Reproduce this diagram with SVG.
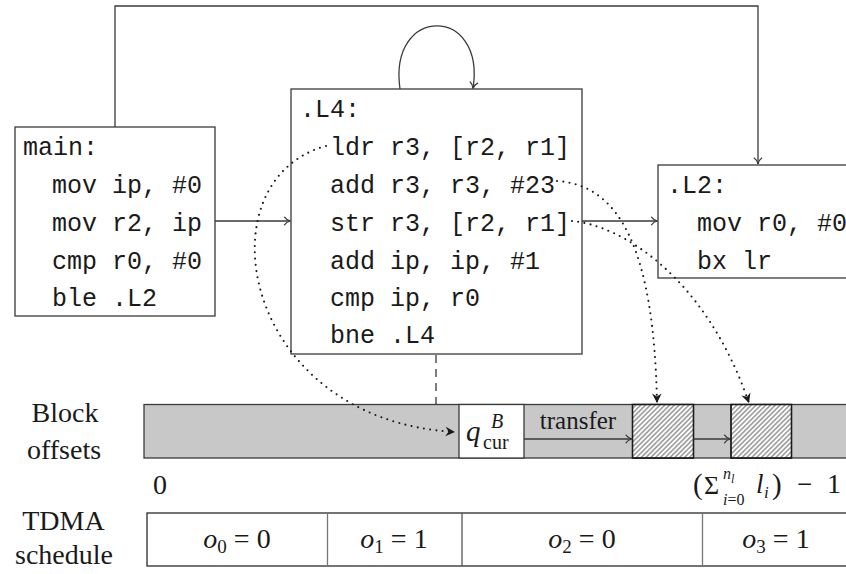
<svg xmlns="http://www.w3.org/2000/svg" width="846" height="574" viewBox="0 0 846 574">
<style>
.box{fill:#fff;stroke:#3a3a3a;stroke-width:1.3}
.code{font-family:"Liberation Mono","DejaVu Sans Mono",monospace;font-size:25px;fill:#1a1a1a}
.rm{font-family:"Liberation Serif","Times New Roman",serif;fill:#1a1a1a}
.it{font-style:italic}
.edge{fill:none;stroke:#3a3a3a;stroke-width:1.3}
.dot{fill:none;stroke:#1a1a1a;stroke-width:2.1;stroke-linecap:round;stroke-dasharray:0 6.3}
.dash{fill:none;stroke:#3a3a3a;stroke-width:1.3;stroke-dasharray:8 6}
</style>
<defs>
<marker id="to" markerUnits="userSpaceOnUse" markerWidth="14" markerHeight="14" refX="0" refY="0" viewBox="-8 -7 10 14" orient="auto" overflow="visible">
<path d="M-6,-3.8 C-4.5,-1.5 -1.8,-0.4 0,0 C-1.8,0.4 -4.5,1.5 -6,3.8" fill="none" stroke="#3a3a3a" stroke-width="1.2" stroke-linecap="round"/>
</marker>
<marker id="stealth" markerUnits="userSpaceOnUse" markerWidth="14" markerHeight="14" refX="0" refY="0" viewBox="-12 -7 14 14" orient="auto" overflow="visible">
<path d="M0,0 L-9.5,-4.8 L-6.5,0 L-9.5,4.8 Z" fill="#1a1a1a"/>
</marker>
<pattern id="hatch" patternUnits="userSpaceOnUse" width="3.4" height="10" patternTransform="rotate(45)">
<line x1="1.7" y1="0" x2="1.7" y2="10" stroke="#1a1a1a" stroke-width="0.75"/>
</pattern>
</defs>

<g id="main">
<rect class="box" x="15" y="127" width="200" height="189"/>
<text class="code" x="23" y="155">main:</text>
<text class="code" x="52" y="193">mov ip, #0</text>
<text class="code" x="52" y="231">mov r2, ip</text>
<text class="code" x="52" y="269">cmp r0, #0</text>
<text class="code" x="52" y="306">ble .L2</text>
</g>

<g id="L4">
<rect class="box" x="291" y="89" width="291" height="265"/>
<text class="code" x="300" y="117">.L4:</text>
<text class="code" x="330" y="155">ldr r3, [r2, r1]</text>
<text class="code" x="330" y="193">add r3, r3, #23</text>
<text class="code" x="330" y="231">str r3, [r2, r1]</text>
<text class="code" x="330" y="269">add ip, ip, #1</text>
<text class="code" x="330" y="306">cmp ip, r0</text>
<text class="code" x="330" y="343">bne .L4</text>
</g>

<g id="L2">
<rect class="box" x="658" y="165" width="200" height="113"/>
<text class="code" x="667" y="193">.L2:</text>
<text class="code" x="697" y="231">mov r0, #0</text>
<text class="code" x="697" y="269">bx lr</text>
</g>

<g id="block-offsets">
<text class="rm" x="65" y="422" font-size="28" text-anchor="middle">Block</text>
<text class="rm" x="64" y="459" font-size="28" text-anchor="middle">offsets</text>
<rect x="144" y="404.5" width="720" height="53.5" fill="#c8c8c8" stroke="#3a3a3a" stroke-width="1.3"/>
<rect x="459" y="404.5" width="65" height="53.5" fill="#fff" stroke="#3a3a3a" stroke-width="1.3"/>
<text class="rm it" x="466" y="441" font-size="29">q</text>
<text class="rm" x="483" y="449" font-size="20">cur</text>
<text class="rm it" x="491" y="428" font-size="20">B</text>
<text class="rm" x="578" y="429" font-size="25" text-anchor="middle">transfer</text>
<rect x="632.5" y="404.5" width="61" height="53.5" fill="#fff" stroke="#1a1a1a" stroke-width="1.3"/>
<rect x="632.5" y="404.5" width="61" height="53.5" fill="url(#hatch)" stroke="#1a1a1a" stroke-width="1.3"/>
<rect x="731" y="404.5" width="60.5" height="53.5" fill="#fff" stroke="#1a1a1a" stroke-width="1.3"/>
<rect x="731" y="404.5" width="60.5" height="53.5" fill="url(#hatch)" stroke="#1a1a1a" stroke-width="1.3"/>
<text class="rm" x="153" y="494" font-size="28">0</text>
<g id="sum-label" class="rm">
<text x="693" y="494" font-size="29">(</text>
<text x="704" y="494" font-size="26">Σ</text>
<text class="it" x="723" y="479" font-size="16">n</text>
<text class="it" x="731" y="483" font-size="12">l</text>
<text x="723" y="505" font-size="16"><tspan class="it">i</tspan>=0</text>
<text class="it" x="756" y="493" font-size="27">l</text>
<text class="it" x="764" y="498" font-size="17">i</text>
<text x="772" y="494" font-size="29">)</text>
<text x="797" y="493" font-size="27">−</text>
<text x="827" y="493" font-size="28">1</text>
</g>
</g>

<g id="tdma">
<text class="rm" x="63.5" y="530" font-size="28" text-anchor="middle">TDMA</text>
<text class="rm" x="64" y="564" font-size="28" text-anchor="middle">schedule</text>
<rect x="147" y="513" width="720" height="53" fill="#fff" stroke="#2a2a2a" stroke-width="1.3"/>
<line x1="327.5" y1="513" x2="327.5" y2="566" stroke="#777" stroke-width="1.3"/>
<line x1="462" y1="513" x2="462" y2="566" stroke="#555" stroke-width="1.3"/>
<line x1="702.5" y1="513" x2="702.5" y2="566" stroke="#777" stroke-width="1.3"/>
<text class="rm" x="237" y="548" font-size="28" text-anchor="middle"><tspan class="it">o</tspan><tspan font-size="19" dy="5">0</tspan><tspan dy="-5"> = 0</tspan></text>
<text class="rm" x="394" y="548" font-size="28" text-anchor="middle"><tspan class="it">o</tspan><tspan font-size="19" dy="5">1</tspan><tspan dy="-5"> = 1</tspan></text>
<text class="rm" x="582" y="548" font-size="28" text-anchor="middle"><tspan class="it">o</tspan><tspan font-size="19" dy="5">2</tspan><tspan dy="-5"> = 0</tspan></text>
<text class="rm" x="776" y="548" font-size="28" text-anchor="middle"><tspan class="it">o</tspan><tspan font-size="19" dy="5">3</tspan><tspan dy="-5"> = 1</tspan></text>
</g>

<g id="connectors">
<path class="edge" d="M115,127 V6 H758 V164" marker-end="url(#to)"/>
<path class="edge" d="M400,89 C388,5 486,5 473,88.5" marker-end="url(#to)"/>
<path class="edge" d="M215,221 H290.5" marker-end="url(#to)"/>
<path class="edge" d="M582,221 H657.5" marker-end="url(#to)"/>
<path class="edge" d="M524,439 H632" marker-end="url(#to)"/>
<path class="edge" d="M693.5,439 H730.5" marker-end="url(#to)"/>
<path class="dash" d="M436,355 V404"/>
<path class="dot" d="M326,146 C200,180 240,420 455,432" marker-end="url(#stealth)"/>
<path class="dot" d="M557,181 C620,185 654,250 657,403" marker-end="url(#stealth)"/>
<path class="dot" d="M572,221 C620,225 705,275 749,403" marker-end="url(#stealth)"/>
</g>
</svg>
